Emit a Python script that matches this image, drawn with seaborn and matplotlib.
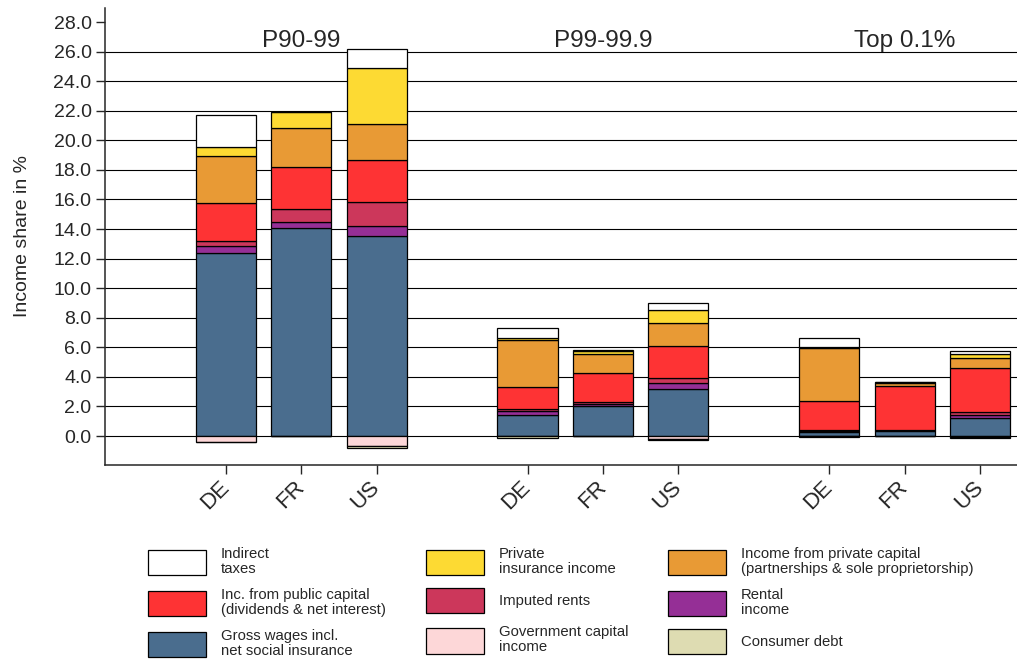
import numpy as np
import pandas as pd
import seaborn as sns
import matplotlib.pyplot as plt
from matplotlib.patches import Patch

# bar order: DE, FR, US for each income group
countries = ["DE", "FR", "US"] * 3
groups = ["P90-99", "P99-99.9", "Top 0.1%"]
positions = [0, 1, 2, 4, 5, 6, 8, 9, 10]

# positive components, stacked bottom -> top
wages = [12.4, 14.05, 13.5, 1.42, 2.0, 3.15, 0.25, 0.36, 1.2]
rental = [0.45, 0.45, 0.72, 0.25, 0.14, 0.43, 0.11, 0.04, 0.24]
imputed = [0.33, 0.86, 1.62, 0.13, 0.14, 0.32, 0.07, 0.03, 0.16]
public_cap = [2.55, 2.84, 2.84, 1.51, 1.98, 2.2, 1.96, 2.93, 2.98]
private_cap = [3.22, 2.66, 2.44, 3.18, 1.28, 1.52, 3.58, 0.24, 0.67]
insurance = [0.57, 1.08, 3.8, 0.11, 0.23, 0.92, 0.05, 0.05, 0.27]
indirect = [2.18, 0.0, 1.25, 0.68, 0.05, 0.43, 0.61, 0.0, 0.25]
# negative components, stacked down from zero
gov_capital = [-0.38, 0.0, -0.68, -0.03, 0.0, -0.23, -0.02, 0.0, -0.05]
consumer_debt = [0.0, 0.0, -0.15, -0.08, 0.0, -0.02, -0.07, 0.0, -0.06]

labels = {
    "indirect": "Indirect\ntaxes",
    "insurance": "Private\ninsurance income",
    "private_cap": "Income from private capital\n(partnerships & sole proprietorship)",
    "public_cap": "Inc. from public capital\n(dividends & net interest)",
    "imputed": "Imputed rents",
    "rental": "Rental\nincome",
    "wages": "Gross wages incl.\nnet social insurance",
    "gov_capital": "Government capital\nincome",
    "consumer_debt": "Consumer debt",
}
colors = {
    "indirect": "#FFFFFF",
    "insurance": "#FDDA33",
    "private_cap": "#E89A35",
    "public_cap": "#FE3334",
    "imputed": "#CC375B",
    "rental": "#952F96",
    "wages": "#4A6D8E",
    "gov_capital": "#FDD7D8",
    "consumer_debt": "#DEDCB2",
}

df = pd.DataFrame({
    "pos": positions, "country": countries,
    "wages": wages, "rental": rental, "imputed": imputed,
    "public_cap": public_cap, "private_cap": private_cap,
    "insurance": insurance, "indirect": indirect,
    "gov_capital": gov_capital, "consumer_debt": consumer_debt,
})

sns.set_style("ticks")
plt.rcParams["font.family"] = ["Liberation Sans", "DejaVu Sans"]

fig = plt.figure(figsize=(10.17, 6.59), dpi=100)
ax = fig.add_axes([0.103, 0.2944, 0.897, 0.6935])

for y in range(0, 27, 2):
    ax.axhline(y, color="black", lw=0.8, zorder=0)

def stack(cols, start):
    bottom = np.full(len(df), start, dtype=float)
    for c in cols:
        sns.barplot(data=df, x="pos", y=c, native_scale=True, color=colors[c],
                    saturation=1, width=0.796, errorbar=None, bottom=bottom,
                    edgecolor="black", linewidth=0.9, ax=ax, zorder=2)
        bottom = bottom + df[c].to_numpy()

stack(["wages", "rental", "imputed", "public_cap", "private_cap", "insurance", "indirect"], 0.0)
stack(["gov_capital", "consumer_debt"], 0.0)

ax.set_xlim(-1.605, 10.49)
ax.set_ylim(-1.96, 28.95)
ax.set_yticks(np.arange(0, 29, 2))
ax.set_yticklabels([f"{v:.1f}" for v in np.arange(0, 29, 2)], fontsize=14)
ax.set_xticks(positions)
ax.set_xticklabels(countries, rotation=45, ha="right", va="center",
                   rotation_mode="anchor", fontsize=16)
ax.tick_params(axis="y", length=6.5, width=1, pad=3)
ax.tick_params(axis="x", length=6.5, width=1, pad=7)
ax.set_xlabel("")
ax.set_ylabel("Income share in %", fontsize=14, labelpad=16)
sns.despine(ax=ax)
for s in ["left", "bottom"]:
    ax.spines[s].set_linewidth(1.1)

for g, x in zip(groups, [1, 5, 9]):
    ax.text(x, 26.33, g, ha="center", va="baseline", fontsize=17.5)

order = ["indirect", "public_cap", "wages", "insurance", "imputed", "gov_capital",
         "private_cap", "rental", "consumer_debt"]
handles = [Patch(facecolor=colors[k], edgecolor="black", linewidth=0.9) for k in order]
leg = fig.legend(handles, [labels[k] for k in order], ncol=3, frameon=False,
                 loc="upper left", bbox_to_anchor=(148 / 1017, 1 - 547 / 659),
                 borderpad=0, borderaxespad=0, fontsize=10.7, handlelength=3.9,
                 handleheight=2.26, handletextpad=1.0, columnspacing=2.7,
                 labelspacing=0.8)
for t in leg.get_texts():
    t.set_linespacing(1.1)

fig.savefig("out.png", dpi=100)
